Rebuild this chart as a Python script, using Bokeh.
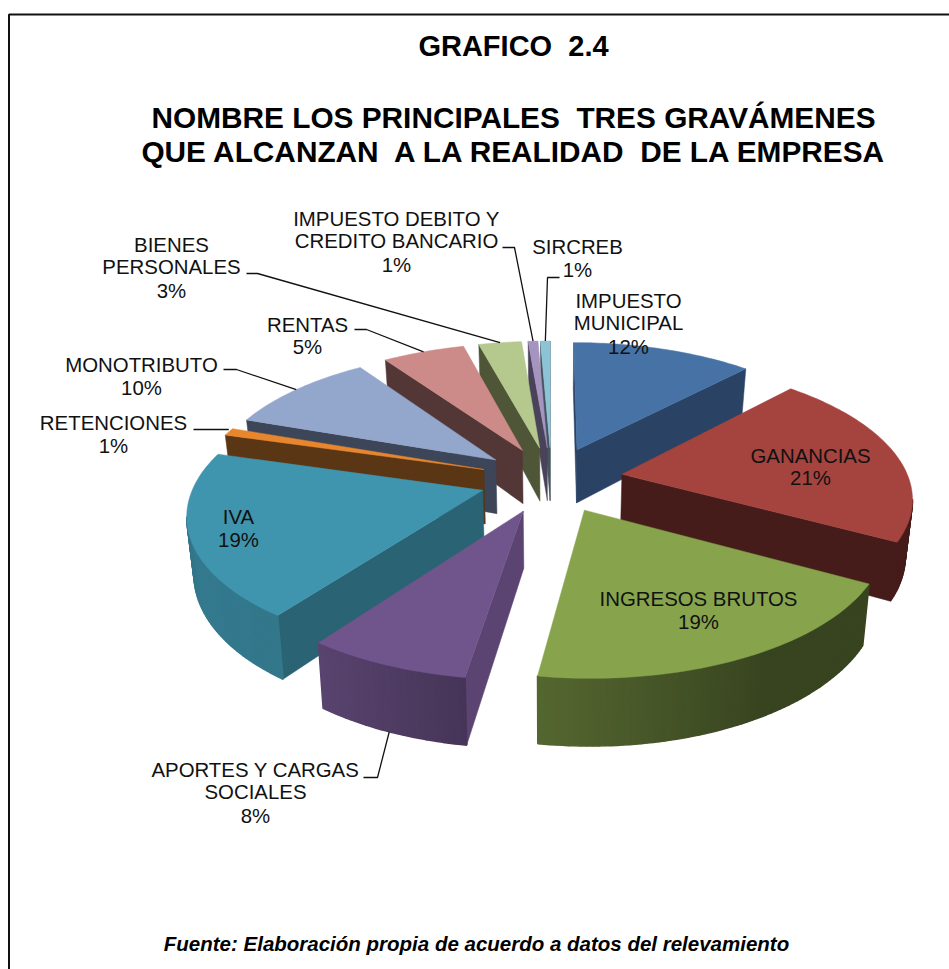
import math
from bokeh.plotting import figure, ColumnDataSource
from bokeh.core.properties import value
from bokeh.embed import file_html
from bokeh.resources import INLINE

# ---- data (shares, printed labels are rounded) ----
names = ["IMPUESTO MUNICIPAL", "GANANCIAS", "INGRESOS BRUTOS", "APORTES Y CARGAS SOCIALES", "IVA", "RETENCIONES",
         "MONOTRIBUTO", "RENTAS", "BIENES PERSONALES", "IMPUESTO DEBITO Y CREDITO BANCARIO", "SIRCREB"]
shares = [12, 21, 19.4, 7.6, 19.49, 0.91, 10, 5.45, 2.85, 0.65, 0.65]
top_colors = ["#4672A5", "#A5433F", "#87A44D", "#70558C", "#4095AE", "#E8862E",
              "#93A7CC", "#CC8A88", "#B5C98E", "#A594BF", "#8CC4D6"]
cut_colors = ["#2A4365", "#451C19", "#3A451C", "#5B4472", "#2A6374", "#5A3615",
              "#3D4558", "#533636", "#4E5637", "#4A4258", "#45555F"]
title_lines = ["GRAFICO\u00a0 2.4", "NOMBRE LOS PRINCIPALES\u00a0 TRES GRAVÁMENES",
               "QUE ALCANZAN\u00a0 A LA REALIDAD\u00a0 DE LA EMPRESA"]
source_note = "Fuente: Elaboración propia de acuerdo a datos del relevamiento"

# ---- layout: label text lines (centre x, y), leader elbows ----
label_layout = [
    (628, [("IMPUESTO", 300), ("MUNICIPAL", 322), ("12%", 346)]),
    (810, [("GANANCIAS", 455), ("21%", 477)]),
    (698, [("INGRESOS BRUTOS", 598), ("19%", 621)]),
    (255, [("APORTES Y CARGAS", 769), ("SOCIALES", 791), ("8%", 815)]),
    (238, [("IVA", 516), ("19%", 539)]),
    (113, [("RETENCIONES", 422), ("1%", 445)]),
    (141, [("MONOTRIBUTO", 364), ("10%", 387)]),
    (307, [("RENTAS", 324), ("5%", 346)]),
    (171, [("BIENES", 244), ("PERSONALES", 266), ("3%", 290)]),
    (396, [("IMPUESTO DEBITO Y", 218), ("CREDITO BANCARIO", 240), ("1%", 264)]),
    (577, [("SIRCREB", 246), ("1%", 269)]),
]
leader_elbows = {3: [(363, 777), (377, 777)], 5: [(193, 429)], 6: [(223, 369), (236, 369)],
                 7: [(354, 329), (366, 329)], 8: [(246, 273), (257, 273)], 9: [(502, 247), (514, 247)],
                 10: [(559, 277), (547, 277)]}

# ---- pie projection ----
CX, CY = 551, 479
A, B, K = 287, 132, 0.153
EXPLODE, DEPTH, SHRINK = 0.25, 55, 0.98


def proj(wx, wy):
    w = 1 + K * wy
    return CX + A * wx / w, CY - B * wy / w, w


def top_pt(mid, th):
    wx = EXPLODE * math.sin(mid) + math.sin(th)
    wy = EXPLODE * math.cos(mid) + math.cos(th)
    return proj(wx, wy)[:2]


def apex(mid):
    return proj(EXPLODE * math.sin(mid), EXPLODE * math.cos(mid))[:2]


def drop(mid, th=None):
    if th is None:
        wx, wy = EXPLODE * math.sin(mid), EXPLODE * math.cos(mid)
    else:
        wx = EXPLODE * math.sin(mid) + math.sin(th)
        wy = EXPLODE * math.cos(mid) + math.cos(th)
    x, y, w = proj(wx, wy)
    return CX + SHRINK * (x - CX), y + DEPTH / w


def shade(deg):
    keys = [(0, .45), (120, .42), (150, .42), (187, .62), (216, .80), (245, .82), (290, .70), (360, .6)]
    for (a, fa), (b, fb) in zip(keys, keys[1:]):
        if a <= deg <= b:
            return fa + (fb - fa) * (deg - a) / (b - a)
    return .6


def scaled(hexc, f):
    r, g, b = int(hexc[1:3], 16), int(hexc[3:5], 16), int(hexc[5:7], 16)
    return "#%02x%02x%02x" % (int(r * f), int(g * f), int(b * f))


total = sum(shares)
slices = []
acc = 0
for i, s in enumerate(shares):
    a0 = acc / total * 2 * math.pi
    acc += s
    a1 = acc / total * 2 * math.pi
    slices.append((i, a0, a1, (a0 + a1) / 2))

xs, ys, fills, widths = [], [], [], []


def add(poly, color, lw):
    xs.append([q[0] for q in poly])
    ys.append([q[1] for q in poly])
    fills.append(color)
    widths.append(lw)


mids = {}
for i, a0, a1, m in sorted(slices, key=lambda t: -(math.cos(t[3]))):
    mids[i] = m
    ap = apex(m)
    apb = drop(m)
    n = max(2, int(math.degrees(a1 - a0)))
    ths = [a0 + (a1 - a0) * j / n for j in range(n + 1)]
    p0, p1 = top_pt(m, a0), top_pt(m, a1)
    # cut faces seen by the viewer
    if p0[0] < ap[0]:
        add([ap, p0, drop(m, a0), apb], cut_colors[i], 0.5)
    if p1[0] > ap[0]:
        add([ap, p1, drop(m, a1), apb], cut_colors[i], 0.5)
    # outer wall, one strip per step
    for t0, t1 in zip(ths, ths[1:]):
        q0, q1 = top_pt(m, t0), top_pt(m, t1)
        if q1[0] < q0[0]:
            add([q0, q1, drop(m, t1), drop(m, t0)], scaled(top_colors[i], shade(math.degrees((t0 + t1) / 2))), 1.6)
    # top face
    add([ap] + [top_pt(m, t) for t in ths], top_colors[i], 0.5)

p = figure(width=949, height=969, x_range=(0, 949), y_range=(969, 0), output_backend="svg",
           toolbar_location=None, min_border=0, outline_line_color=None, background_fill_color="white")
p.axis.visible = False
p.grid.visible = False

# frame
p.line([8.5, 8.5, 949], [969, 14, 14], line_color="#111111", line_width=2)

src = ColumnDataSource(dict(xs=xs, ys=ys, c=fills, w=widths))
p.patches("xs", "ys", source=src, fill_color="c", line_color="c", line_width="w")

# leaders ending on the slice they name
for i, elbows in leader_elbows.items():
    m = mids[i]
    end = drop(m, m) if i == 3 else top_pt(m, m)
    if len(elbows) == 1:
        end = (end[0], elbows[0][1])
    pts = elbows + [end]
    p.line([q[0] for q in pts], [q[1] for q in pts], line_color="#111111", line_width=1.3)

FONT = value("Liberation Sans")
for cx, lines in label_layout:
    for txt, y in lines:
        p.text([cx], [y], text=[txt], text_font=FONT, text_font_size="20.4px", text_align="center",
               text_baseline="middle", text_color="#111111")

for txt, y, x, size in zip(title_lines, [45, 117, 151], [513, 513, 515], ["29px", "29.8px", "29.8px"]):
    p.text([x], [y], text=[txt], text_font=FONT, text_font_size=size, text_font_style="bold",
           text_align="center", text_baseline="middle", text_color="#000000")
p.text([476], [943], text=[source_note], text_font=FONT, text_font_size="20.5px", text_font_style="bold italic",
       text_align="center", text_baseline="middle", text_color="#000000")

open("out.html", "w").write(file_html(p, INLINE))
